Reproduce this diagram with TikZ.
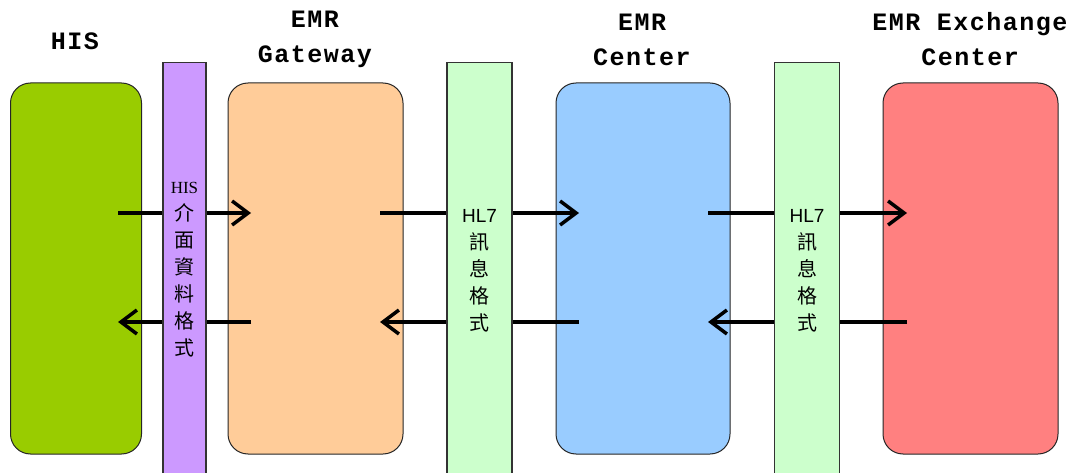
\documentclass[tikz,border=0pt]{standalone}
\usepackage{fontspec}
\setmainfont{Liberation Serif}
\newfontfamily\titlefont[LetterSpace=6]{Liberation Mono}
\newfontfamily\labelsans{Liberation Sans}
\newfontfamily\cjk{Noto Sans CJK TC}
\usetikzlibrary{arrows.meta}

\definecolor{hisgreen}{HTML}{99CC00}
\definecolor{gwpeach}{HTML}{FFCC99}
\definecolor{ctrblue}{HTML}{99CCFF}
\definecolor{exred}{HTML}{FF8080}
\definecolor{ifpurple}{HTML}{CC99FF}
\definecolor{msgmint}{HTML}{CCFFCC}

\begin{document}
\begin{tikzpicture}[x=1pt,y=-1pt,
  sysbox/.style={draw=black!85, line width=1pt, rounded corners=20pt,
    inner sep=0pt, minimum height=371pt},
  fmtbar/.style={draw=black!80, line width=1.2pt, inner sep=0pt,
    minimum height=430pt, anchor=north},
  flow/.style={line width=3.5pt,
    -{Straight Barb[length=16pt,width=24pt,line width=3.5pt]}},
  title/.style={font=\titlefont\bfseries\fontsize{25}{35}\selectfont,
    align=center},
  barlabel/.style={align=center, inner sep=0pt,
    font=\cjk\fontsize{20}{27}\selectfont},
]
\useasboundingbox (0,0) rectangle (1071,473);
\clip (0,0) rectangle (1071,473);

% system blocks
\node[sysbox, fill=hisgreen, minimum width=131pt] (his) at (76,268.5) {};
\node[sysbox, fill=gwpeach, minimum width=175pt] (gw) at (315.5,268.5) {};
\node[sysbox, fill=ctrblue, minimum width=174pt] (ctr) at (643,268.5) {};
\node[sysbox, fill=exred, minimum width=175pt] (ex) at (970.5,268.5) {};

% message flows (drawn beneath the format bars)
\coordinate (h1) at (118,213);  \coordinate (h2) at (118,322);
\coordinate (g1) at (251,213);  \coordinate (g2) at (251,322);
\coordinate (g3) at (380,213);  \coordinate (g4) at (380,322);
\coordinate (c1) at (579,213);  \coordinate (c2) at (579,322);
\coordinate (c3) at (708,213);  \coordinate (c4) at (708,322);
\coordinate (e1) at (907,213);  \coordinate (e2) at (907,322);
\draw[flow] (h1) -- (g1);
\draw[flow] (g2) -- (h2);
\draw[flow] (g3) -- (c1);
\draw[flow] (c2) -- (g4);
\draw[flow] (c3) -- (e1);
\draw[flow] (e2) -- (c4);

% format bars
\node[fmtbar, fill=ifpurple, minimum width=43pt] (ifbar) at (184.5,62) {};
\node[fmtbar, fill=msgmint, minimum width=65pt] (hl7a) at (479.5,62) {};
\node[fmtbar, fill=msgmint, minimum width=65pt] (hl7b) at (807,62) {};

% bar labels
\node[barlabel] (iflbl) at (184.5,270)
  {{\rmfamily\fontsize{17}{25}\selectfont HIS}\\介\\面\\資\\料\\格\\式};
\node[barlabel] (lbla) at (479.5,271)
  {{\labelsans\fontsize{19}{27}\selectfont HL7}\\訊\\息\\格\\式};
\node[barlabel] (lblb) at (807,271)
  {{\labelsans\fontsize{19}{27}\selectfont HL7}\\訊\\息\\格\\式};

% titles
\node[title] (t1) at (75,41) {HIS};
\node[title] (t2) at (315,39.5) {EMR\\Gateway};
\node[title] (t3) at (642,39.5) {EMR\\Center};
\node[title] (t4) at (970,39.5) {EMR Exchange\\Center};
\end{tikzpicture}
\end{document}
